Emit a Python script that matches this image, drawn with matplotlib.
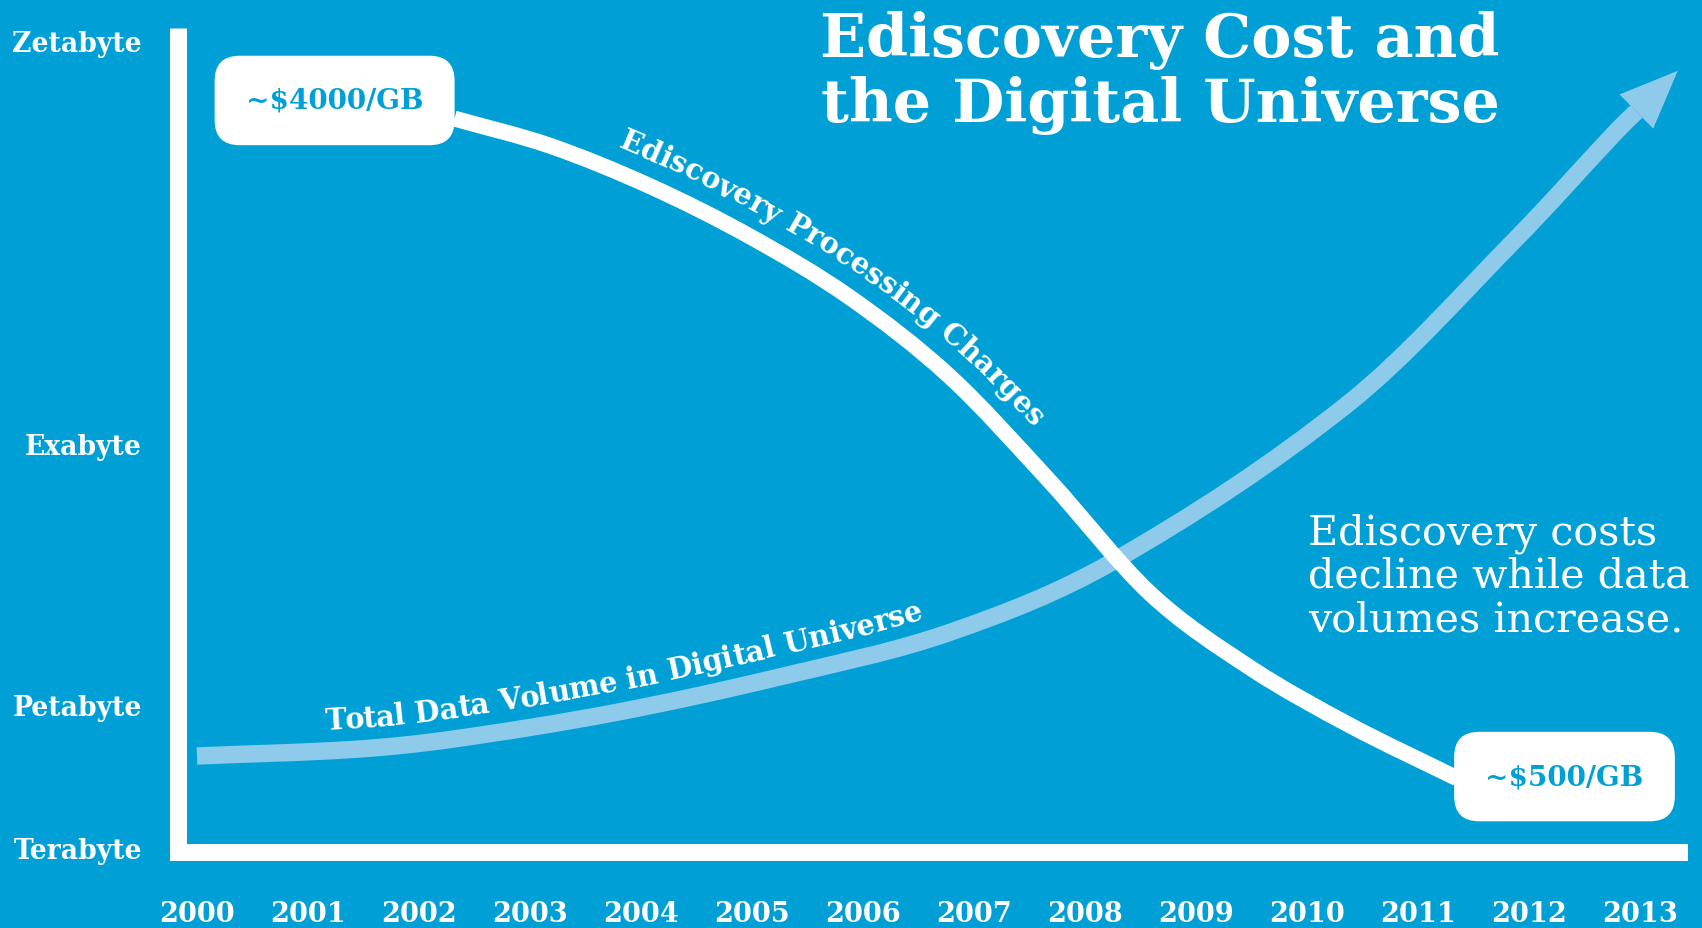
import numpy as np
import matplotlib
matplotlib.use("Agg")
import matplotlib.pyplot as plt
import matplotlib.font_manager as fm
from matplotlib.path import Path
from matplotlib.patches import PathPatch
from matplotlib.transforms import IdentityTransform

BG = "#00a0d6"
LIGHT = "#8ecbea"
WHITE = "white"

# axis categories
years = list(range(2000, 2014))
size_labels = ["Terabyte", "Petabyte", "Exabyte", "Zetabyte"]
size_pos = [0.5, 17.8, 49.5, 98.5]

# total data volume (relative height)
volume_x = [2000.0, 2001.41, 2002.28, 2003.78, 2005.28, 2006.78, 2008.25,
            2010.39, 2011.89, 2012.79]
volume_y = [11.6, 12.4, 13.6, 16.9, 21.3, 26.6, 35.2,
            54.6, 74.5, 87.5]
volume_tip = (2013.34, 94.8)

# ediscovery processing charges
cost_x = [2002.32, 2003.18, 2004.08, 2004.98, 2005.88, 2006.78, 2007.68,
          2008.59, 2009.49, 2010.39, 2011.35]
cost_y = [89.0, 85.7, 80.8, 74.7, 67.3, 57.7, 45.0,
          31.3, 22.3, 15.3, 8.9]

cost_labels = ["~$4000/GB", "~$500/GB"]
cost_label_pos = [(2001.24, 91.2), (2012.32, 9.1)]

title_lines = ["Ediscovery Cost and", "the Digital Universe"]
note_lines = ["Ediscovery costs", "decline while data", "volumes increase."]
cost_name = "Ediscovery Processing Charges"
volume_name = "Total Data Volume in Digital Universe"

W, H = 1702, 929
fig = plt.figure(figsize=(W / 100, H / 100), dpi=100, facecolor=BG)
ax = fig.add_axes([178 / W, 76.5 / H, 1500.5 / W, 823.5 / H])
ax.set_facecolor(BG)
ax.set_xlim(1999.829, 2013.347)
ax.set_ylim(0, 100)
renderer = fig.canvas.get_renderer()


def serif(weight="bold", size=10):
    return fm.FontProperties(family="DejaVu Serif", weight=weight, size=size)


def text_w(txt, fp):
    return renderer.get_text_width_height_descent(txt, fp, ismath=False)[0]


def fit(txt, weight, target_px):
    # font size (pt) that gives the text the wanted width in pixels
    return 100 * target_px / text_w(txt, serif(weight, 100))


def smooth_path(xs, ys):
    # cubic hermite in x through the read points, written as bezier segments
    x = np.asarray(xs, float)
    y = np.asarray(ys, float)
    m = np.empty_like(y)
    m[1:-1] = (y[2:] - y[:-2]) / (x[2:] - x[:-2])
    m[0] = (y[1] - y[0]) / (x[1] - x[0])
    m[-1] = (y[-1] - y[-2]) / (x[-1] - x[-2])
    verts, codes = [(x[0], y[0])], [Path.MOVETO]
    for i in range(len(x) - 1):
        h = x[i + 1] - x[i]
        verts += [(x[i] + h / 3, y[i] + m[i] * h / 3),
                  (x[i + 1] - h / 3, y[i + 1] - m[i + 1] * h / 3),
                  (x[i + 1], y[i + 1])]
        codes += [Path.CURVE4] * 3
    return Path(np.array(verts), codes)


def sample_path(path, n=40):
    v = path.vertices
    t = np.linspace(0, 1, n)[:, None]
    out = [v[:1]]
    for i in range(1, len(v) - 1, 3):
        a, b, c, d = v[i - 1], v[i], v[i + 1], v[i + 2]
        out.append((1 - t) ** 3 * a + 3 * (1 - t) ** 2 * t * b + 3 * (1 - t) * t ** 2 * c + t ** 3 * d)
    return np.vstack(out)


# spines as the thick white axes
for s in ["top", "right"]:
    ax.spines[s].set_visible(False)
for s in ["left", "bottom"]:
    ax.spines[s].set_color(WHITE)
    ax.spines[s].set_linewidth(12.2)
ax.spines["left"].set_capstyle("butt")
ax.spines["bottom"].set_capstyle("projecting")

ax.set_xticks(years)
ax.set_xticklabels([str(y) for y in years], fontproperties=serif("bold", fit("2013", "bold", 76)))
ax.set_yticks(size_pos)
ax.set_yticklabels(size_labels, fontproperties=serif("bold", fit("Zetabyte", "bold", 129)))
ax.tick_params(axis="x", length=0, pad=35, colors=WHITE)
ax.tick_params(axis="y", length=0, pad=26, colors=WHITE)

# data volume curve with arrow head
tip_d = ax.transData.transform(volume_tip)
last_d = ax.transData.transform((volume_x[-1], volume_y[-1]))
u = (tip_d - last_d) / np.hypot(*(tip_d - last_d))
head_len = 58
base = ax.transData.inverted().transform(tip_d - u * head_len)
vol_path = smooth_path(volume_x + [base[0]], volume_y + [base[1]])
ax.add_patch(PathPatch(vol_path, fill=False, ec=LIGHT, lw=12.5, capstyle="butt",
                       joinstyle="round", clip_on=False, zorder=2))
ax.annotate("", xy=volume_tip, xytext=base, annotation_clip=False,
            arrowprops=dict(arrowstyle=f"-|>,head_length={head_len * 0.72},head_width={24 * 0.72}",
                            mutation_scale=1, lw=0, color=LIGHT, shrinkA=0, shrinkB=0), zorder=2)

# cost curve
cost_path = smooth_path(cost_x, cost_y)
ax.add_patch(PathPatch(cost_path, fill=False, ec=WHITE, lw=11.5, capstyle="butt",
                       joinstyle="round", clip_on=False, zorder=3))

box_fp = serif("bold", fit(cost_labels[0], "bold", 178))
for lab, (bx, by) in zip(cost_labels, cost_label_pos):
    ax.text(bx, by, lab, ha="center", va="center", color=BG, fontproperties=box_fp, zorder=5,
            bbox=dict(boxstyle="round,pad=1.12,rounding_size=0.9", fc=WHITE, ec="none"))


def curve_text(path, txt, x_start, offset, fp, color):
    pts = ax.transData.transform(sample_path(path))
    s = np.r_[0, np.cumsum(np.hypot(*np.diff(pts, axis=0).T))]
    ss = np.arange(0, s[-1], 1.0)
    cx = np.interp(ss, s, pts[:, 0])
    cy = np.interp(ss, s, pts[:, 1])
    k = 6
    idx = np.arange(len(ss))
    i0 = np.clip(idx - k, 0, len(ss) - 1)
    i1 = np.clip(idx + k, 0, len(ss) - 1)
    tx, ty = cx[i1] - cx[i0], cy[i1] - cy[i0]
    n = np.hypot(tx, ty)
    tx, ty = tx / n, ty / n
    ox, oy = cx - ty * offset, cy + tx * offset
    so = np.r_[0, np.cumsum(np.hypot(np.diff(ox), np.diff(oy)))]
    ang = np.degrees(np.arctan2(ty, tx))
    x0 = ax.transData.transform((x_start, 0))[0]
    s0 = np.interp(x0, ox, so)
    pre = [text_w(txt[:i] + "|", fp) for i in range(len(txt) + 1)]
    for i, ch in enumerate(txt):
        if ch == " ":
            continue
        sc = s0 + (pre[i] + pre[i + 1]) / 2 - pre[0]
        ax.text(np.interp(sc, so, ox), np.interp(sc, so, oy), ch, transform=IdentityTransform(),
                rotation=np.interp(sc, so, ang), rotation_mode="anchor", ha="center",
                va="baseline", fontproperties=fp, color=color, zorder=6)


curve_text(cost_path, cost_name, 2003.79, 24,
           serif("bold", fit(cost_name, "bold", 505)), WHITE)
curve_text(vol_path, volume_name, 2001.16, 22,
           serif("bold", fit(volume_name, "bold", 612)), WHITE)

# title and note
title_fp = serif("bold", fit(title_lines[0], "bold", 679))
for line, yb in zip(title_lines, [57, 122]):
    fig.text(1160 / W, 1 - yb / H, line, ha="center", va="baseline", color=WHITE,
             fontproperties=title_fp)

note_fp = serif("normal", fit(note_lines[1], "normal", 382))
for line, yb in zip(note_lines, [545, 588, 631]):
    fig.text(1308 / W, 1 - yb / H, line, ha="left", va="baseline", color=WHITE,
             fontproperties=note_fp)

fig.savefig("out.png", dpi=100, facecolor=BG)
